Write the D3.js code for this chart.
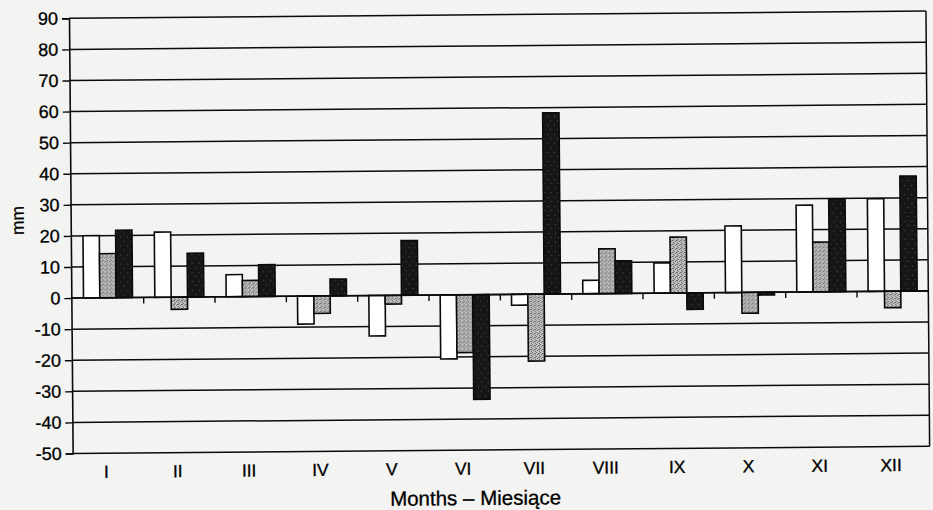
<!DOCTYPE html>
<html>
<head>
<meta charset="utf-8">
<script src="https://cdn.jsdelivr.net/npm/d3@7"></script>
<style>
  html, body { margin: 0; padding: 0; background: #f3f3f1; }
  svg { display: block; }
  text { font-family: "Liberation Sans", Arial, sans-serif; fill: #000; stroke: #000; stroke-width: 0.3px; }
</style>
</head>
<body>
<svg id="chart" width="933" height="510"></svg>
<script>
// Monthly precipitation deviations (mm), three series per month
const months = ["I", "II", "III", "IV", "V", "VI", "VII", "VIII", "IX", "X", "XI", "XII"];
const seriesNames = ["series1", "series2", "series3"];
const series1 = [20.0, 21.0, 7.1, -9.0, -13.0, -20.6, -3.5, 4.3, 9.7, 21.4, 27.9, 29.8];
const series2 = [14.2, -3.9, 5.2, -5.6, -2.8, -18.6, -21.5, 14.4, 18.0, -6.7, 16.0, -5.3];
const series3 = [21.7, 14.1, 10.2, 5.4, 17.6, -33.7, 58.3, 10.5, -5.3, -0.9, 29.8, 37.0];
const yTickValues = [-50, -40, -30, -20, -10, 0, 10, 20, 30, 40, 50, 60, 70, 80, 90];
const yAxisTitle = "mm";
const xAxisTitle = "Months \u2013 Miesi\u0105ce";

const svg = d3.select("#chart");

// fill patterns: plain white, stippled grey, speckled black
const defs = svg.append("defs");
const grey = defs.append("pattern").attr("id", "stipple").attr("patternUnits", "userSpaceOnUse")
  .attr("width", 4).attr("height", 4);
grey.append("rect").attr("width", 4).attr("height", 4).attr("fill", "#c4c4c4");
[[0, 0], [2, 1], [1, 2], [3, 3], [3, 1]].forEach(([px, py]) =>
  grey.append("rect").attr("x", px).attr("y", py).attr("width", 1).attr("height", 1).attr("fill", "#666"));
const dark = defs.append("pattern").attr("id", "speckle").attr("patternUnits", "userSpaceOnUse")
  .attr("width", 7).attr("height", 9);
dark.append("rect").attr("width", 7).attr("height", 9).attr("fill", "#161616");
[[2, 3], [5, 7]].forEach(([px, py]) =>
  dark.append("rect").attr("x", px).attr("y", py).attr("width", 1).attr("height", 1).attr("fill", "#555"));
const fills = { series1: "#ffffff", series2: "url(#stipple)", series3: "url(#speckle)" };

const plot = { left: 70, right: 926, top: 18.3, bottom: 453.5 };
const ink = "#0a0a0a";

// the whole figure sits slightly tilted on the page
const g = svg.append("g").attr("transform", `rotate(-0.48, 69, ${plot.top})`);

const x0 = d3.scaleBand().domain(months).range([plot.left, plot.right])
  .paddingInner(0.313).paddingOuter(0.1565);
const x1 = d3.scaleBand().domain(seriesNames).range([0, x0.bandwidth()]);
const y = d3.scaleLinear().domain([-50, 90]).range([plot.bottom, plot.top]);

// horizontal gridlines
g.append("g").selectAll("line").data(yTickValues).join("line")
  .attr("x1", 69).attr("x2", plot.right)
  .attr("y1", d => y(d)).attr("y2", d => y(d))
  .attr("stroke", ink).attr("stroke-width", 1.5);

// right frame
g.append("line").attr("x1", plot.right).attr("x2", plot.right)
  .attr("y1", y(90)).attr("y2", y(-50)).attr("stroke", ink).attr("stroke-width", 1.5);

// bars
const rows = months.map((m, i) => ({
  month: m,
  values: [
    { key: "series1", v: series1[i] },
    { key: "series2", v: series2[i] },
    { key: "series3", v: series3[i] }
  ]
}));
g.append("g").selectAll("g").data(rows).join("g")
  .attr("transform", d => `translate(${x0(d.month)},0)`)
  .selectAll("rect").data(d => d.values).join("rect")
  .attr("x", d => x1(d.key))
  .attr("width", x1.bandwidth())
  .attr("y", d => y(Math.max(0, d.v)))
  .attr("height", d => Math.abs(y(d.v) - y(0)))
  .attr("fill", d => fills[d.key])
  .attr("stroke", ink).attr("stroke-width", 1.6);

// zero axis with ticks between months
const xAxis = g.append("g").attr("transform", `translate(0,${y(0)})`)
  .call(d3.axisBottom(x0).tickSize(0).tickFormat(""));
xAxis.select(".domain").attr("stroke", ink).attr("stroke-width", 1.6).attr("d", `M${69},0H${plot.right}`);
g.append("g").selectAll("line").data(d3.range(1, months.length)).join("line")
  .attr("x1", i => x0(months[i]) - x0.step() * x0.paddingInner() / 2)
  .attr("x2", i => x0(months[i]) - x0.step() * x0.paddingInner() / 2)
  .attr("y1", y(0)).attr("y2", y(0) + 6)
  .attr("stroke", ink).attr("stroke-width", 1.4);

// y axis
const yAxis = g.append("g").attr("transform", "translate(69,0)")
  .call(d3.axisLeft(y).tickValues(yTickValues).tickSize(7).tickPadding(4).tickFormat(d => String(d)));
yAxis.select(".domain").attr("stroke", ink).attr("stroke-width", 1.6);
yAxis.selectAll(".tick line").attr("stroke", ink).attr("stroke-width", 1.4);
yAxis.selectAll(".tick text").attr("font-size", 18).attr("fill", "#000")
  .attr("font-family", "'Liberation Sans', Arial, sans-serif");

// month labels
g.append("g").selectAll("text").data(months).join("text")
  .attr("x", d => x0(d) + x0.bandwidth() / 2 - 3)
  .attr("y", 478)
  .attr("text-anchor", "middle")
  .attr("font-size", 17.5)
  .text(d => d);

// axis titles
g.append("text")
  .attr("transform", "translate(22,220) rotate(-90)")
  .attr("text-anchor", "middle")
  .attr("font-size", 17.5)
  .text(yAxisTitle);
g.append("text")
  .attr("x", 471.5).attr("y", 508.5)
  .attr("text-anchor", "middle")
  .attr("font-size", 20.5)
  .text(xAxisTitle);
</script>
</body>
</html>
